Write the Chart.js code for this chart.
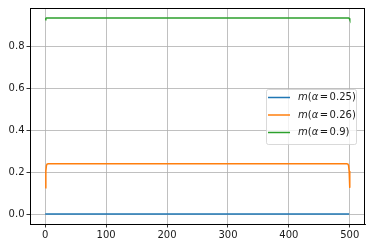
<!DOCTYPE html>
<html>
<head>
<meta charset="utf-8">
<script src="https://cdn.jsdelivr.net/npm/chart.js@4/dist/chart.umd.min.js"></script>
<style>
  html, body { margin: 0; padding: 0; background: #fff; }
  #wrap { width: 372px; height: 248px; }
</style>
</head>
<body>
<div id="wrap"><canvas id="chart" width="372" height="248"></canvas></div>
<script>
// sample positions (plateau is flat in between)
const xs = [0, 1, 2, 3, 5, 10, 100, 250, 400, 490, 495, 497, 498, 499, 500];
const mBlue   = [0, 0, 0, 0, 0, 0, 0, 0, 0, 0, 0, 0, 0, 0, 0];
const mOrange = [0.125, 0.205, 0.232, 0.238, 0.24, 0.24, 0.24, 0.24, 0.24, 0.24, 0.24, 0.238, 0.232, 0.205, 0.125];
const mGreen  = [0.925, 0.932, 0.934, 0.934, 0.934, 0.934, 0.934, 0.934, 0.934, 0.934, 0.934, 0.934, 0.934, 0.932, 0.925];

const labels = ["0.25", "0.26", "0.9"];
const colors = ["#1f77b4", "#ff7f0e", "#2ca02c"];
const xTicks = [0, 100, 200, 300, 400, 500];
const yTicks = [0.0, 0.2, 0.4, 0.6, 0.8];

const FONT = "DejaVu Sans";
const FS = 10;

function pts(ys) {
    return xs.map((x, i) => ({ x: x, y: ys[i] }));
}

const series = [mBlue, mOrange, mGreen];

// frame on top + right, and the matplotlib-style legend
const extras = {
    id: "extras",
    afterDraw(chart) {
        const ctx = chart.ctx;
        const a = chart.chartArea;
        ctx.save();
        ctx.strokeStyle = "#000";
        ctx.lineWidth = 1;
        ctx.beginPath();
        ctx.moveTo(a.left, a.top + 0.5);
        ctx.lineTo(a.right, a.top + 0.5);
        ctx.moveTo(a.right - 0.5, a.top);
        ctx.lineTo(a.right - 0.5, a.bottom);
        ctx.stroke();

        // legend box
        const bx = 266, by = 89, bw = 90, bh = 55, r = 2;
        ctx.globalAlpha = 0.8;
        ctx.fillStyle = "#fff";
        ctx.strokeStyle = "#d0d0d0";
        ctx.lineWidth = 1;
        ctx.beginPath();
        ctx.roundRect(bx + 0.5, by + 0.5, bw, bh, r);
        ctx.fill();
        ctx.stroke();
        ctx.globalAlpha = 1;

        const rows = [97.5, 115, 132.5];
        rows.forEach((yy, i) => {
            ctx.strokeStyle = colors[i];
            ctx.lineWidth = 1.5;
            ctx.beginPath();
            ctx.moveTo(268, yy);
            ctx.lineTo(290, yy);
            ctx.stroke();

            ctx.fillStyle = "#1a1a1a";
            ctx.textBaseline = "middle";
            ctx.textAlign = "left";
            let tx = 298;
            const parts = [
                ["m", true, 0], ["(", false, 0], ["α", true, 0], ["=", false, 1.5],
                [labels[i], false, 1.5], [")", false, 0]
            ];
            parts.forEach(p => {
                tx += p[2];
                ctx.font = (p[1] ? "oblique " : "") + FS + "px '" + FONT + "'";
                ctx.fillText(p[0], tx, yy);
                tx += ctx.measureText(p[0]).width;
            });
        });
        ctx.restore();
    }
};

new Chart(document.getElementById("chart").getContext("2d"), {
    type: "line",
    data: {
        datasets: series.map((s, i) => ({
            label: "m(α = " + labels[i] + ")",
            data: pts(s),
            borderColor: colors[i],
            backgroundColor: colors[i],
            borderWidth: 1.5,
            pointRadius: 0,
            tension: 0,
            fill: false,
            order: 3 - i
        }))
    },
    options: {
        responsive: false,
        animation: false,
        events: [],
        layout: { padding: { top: 6, right: 7, left: 0, bottom: 0 } },
        plugins: {
            legend: { display: false },
            tooltip: { enabled: false }
        },
        scales: {
            x: {
                type: "linear",
                min: -25,
                max: 525,
                afterBuildTicks: (sc) => { sc.ticks = xTicks.map(v => ({ value: v })); },
                afterFit: (sc) => { sc.height = 24; },
                grid: { color: "#b0b0b0", lineWidth: 0.8, tickLength: 3.5, tickColor: "#000", tickWidth: 0.8 },
                border: { color: "#000", width: 1 },
                ticks: {
                    padding: 2,
                    maxRotation: 0,
                    color: "#1a1a1a",
                    font: { family: FONT, size: FS },
                    callback: (v) => String(v)
                }
            },
            y: {
                type: "linear",
                min: -0.047,
                max: 0.981,
                afterBuildTicks: (sc) => { sc.ticks = yTicks.map(v => ({ value: v })); },
                afterFit: (sc) => { sc.width = 30; },
                grid: { color: "#b0b0b0", lineWidth: 0.8, tickLength: 3.5, tickColor: "#000", tickWidth: 0.8 },
                border: { color: "#000", width: 1 },
                ticks: {
                    padding: 2,
                    color: "#1a1a1a",
                    font: { family: FONT, size: FS },
                    callback: (v) => v.toFixed(1)
                }
            }
        }
    },
    plugins: [extras]
});
</script>
</body>
</html>
